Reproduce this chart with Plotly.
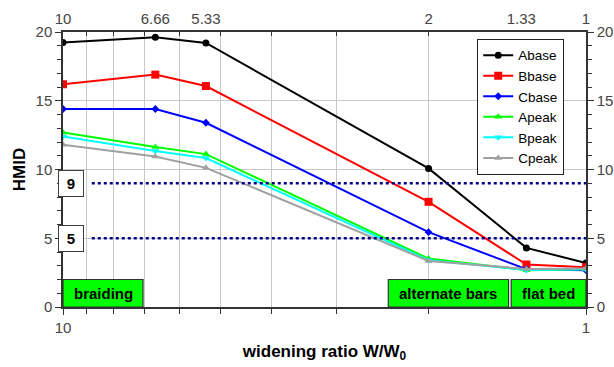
import plotly.graph_objects as go

# ---- data ----
ratio = [10, 6.66, 5.33, 2, 1.3, 1]
abase = [19.23, 19.62, 19.2, 10.08, 4.3, 3.2]
bbase = [16.2, 16.9, 16.07, 7.65, 3.09, 2.9]
cbase = [14.4, 14.4, 13.4, 5.44, 2.75, 2.67]
apeak = [12.7, 11.63, 11.12, 3.52, 2.67, 2.75]
bpeak = [12.4, 11.34, 10.83, 3.4, 2.7, 2.75]
cpeak = [11.8, 10.95, 10.12, 3.35, 2.77, 2.8]
series_names = ["Abase", "Bbase", "Cbase", "Apeak", "Bpeak", "Cpeak"]
top_tick_vals = [10, 6.66, 5.33, 2, 1.33, 1]
top_tick_text = ["10", "6.66", "5.33", "2", "1.33", "1"]
bottom_tick_vals = [10, 1]
minor_vals = [2, 3, 4, 5, 6, 7, 8, 9]
thresholds = [9, 5]
regimes = ["braiding", "alternate bars", "flat bed"]

colors = ["#000000", "#ff0000", "#0000ff", "#00ff00", "#00ffff", "#a0a0a0"]
symbols = ["circle", "square", "diamond", "triangle-up", "triangle-down", "triangle-up"]
sizes = [7, 8, 6, 7, 7, 7]

FONT = "Liberation Sans, Arial, sans-serif"
fig = go.Figure()
for name, ys, c, s, sz in zip(series_names, [abase, bbase, cbase, apeak, bpeak, cpeak], colors, symbols, sizes):
    fig.add_trace(go.Scatter(x=ratio, y=ys, name=name, mode="lines+markers",
                             line=dict(color=c, width=2), marker=dict(color=c, symbol=s, size=sz)))

# invisible trace for top axis
fig.add_trace(go.Scatter(x=[10, 1], y=[0, 0], xaxis="x2", yaxis="y2", mode="markers",
                         marker=dict(opacity=0), showlegend=False, hoverinfo="skip"))

# threshold dotted lines
for t in thresholds:
    fig.add_shape(type="line", xref="paper", yref="y", x0=0.055, x1=1, y0=t, y1=t,
                  line=dict(color="#00008b", width=2.5, dash="dot"))
    fig.add_annotation(xref="paper", yref="y", x=0.0153, y=t, xanchor="center", yanchor="middle",
                       text="<b>%d</b>" % t, showarrow=False,
                       bgcolor="white", bordercolor="#404040", borderwidth=1, borderpad=0,
                       width=24, height=25, font=dict(family=FONT, size=15, color="black"))

# regime boxes (paper x extents)
box_x = [(0.0, 0.153), (0.622, 0.852), (0.857, 1.0)]
for label, (x0, x1) in zip(regimes, box_x):
    fig.add_shape(type="rect", xref="paper", yref="y", x0=x0, x1=x1, y0=0, y1=2,
                  fillcolor="#00ff00", line=dict(color="#333333", width=1.2))
    fig.add_annotation(xref="paper", yref="y", x=(x0 + x1) / 2, y=1, xanchor="center", yanchor="middle",
                       text="<b>%s</b>" % label,
                       showarrow=False, font=dict(family=FONT, size=15, color="black"))

tickfont = dict(family=FONT, size=15, color="#444444")
axcol = "#333333"
grid = "#c8c8c8"
fig.update_layout(
    width=614, height=367,
    margin=dict(l=63, r=28, t=32, b=60),
    plot_bgcolor="white", paper_bgcolor="white",
    font=dict(family=FONT),
    xaxis=dict(type="log", range=[1, 0], tickvals=bottom_tick_vals, ticktext=["10", "1"], automargin=False,
               ticks="outside", ticklen=6, tickcolor=axcol, showline=True, linecolor=axcol, linewidth=1.5,
               showgrid=False, zeroline=False, tickfont=tickfont,
               minor=dict(tickvals=minor_vals, ticks="outside", ticklen=5, tickcolor=axcol,
                          showgrid=True, gridcolor=grid, gridwidth=1),
               title=dict(text="<b>widening ratio W/W<sub>0</sub></b>", font=dict(family=FONT, size=17, color="black"),
                          standoff=10)),
    xaxis2=dict(type="log", range=[1, 0], overlaying="x", side="top", anchor="y", automargin=False,
                tickvals=top_tick_vals, ticktext=top_tick_text, ticks="", showline=True,
                linecolor=axcol, linewidth=1.5, showgrid=False, zeroline=False, tickfont=tickfont,
                minor=dict(tickvals=minor_vals, ticks="inside", ticklen=4, tickcolor=axcol)),
    yaxis=dict(range=[0, 20], dtick=5, ticks="outside", ticklen=6, tickcolor=axcol, showline=True, automargin=False,
               linecolor=axcol, linewidth=1.5, showgrid=True, gridcolor=grid, zeroline=False, tickfont=tickfont,
               minor=dict(dtick=1, ticks="outside", ticklen=4, tickcolor=axcol, showgrid=False),
               title=dict(text="<b>HMID</b>", font=dict(family=FONT, size=17, color="black"), standoff=6)),
    yaxis2=dict(range=[0, 20], dtick=5, overlaying="y", side="right", anchor="x", ticks="outside", ticklen=6,
                automargin=False,
                tickcolor=axcol, showline=True, linecolor=axcol, linewidth=1.5, showgrid=False, zeroline=False,
                tickfont=tickfont, minor=dict(dtick=1, ticks="outside", ticklen=4, tickcolor=axcol)),
    legend=dict(x=0.792, y=0.975, xanchor="left", yanchor="top", bgcolor="white", bordercolor="#222222",
                borderwidth=1, font=dict(family=FONT, size=13.5, color="black"), tracegroupgap=0,
                itemwidth=30),
    showlegend=True,
)
fig.write_html("out.html")
